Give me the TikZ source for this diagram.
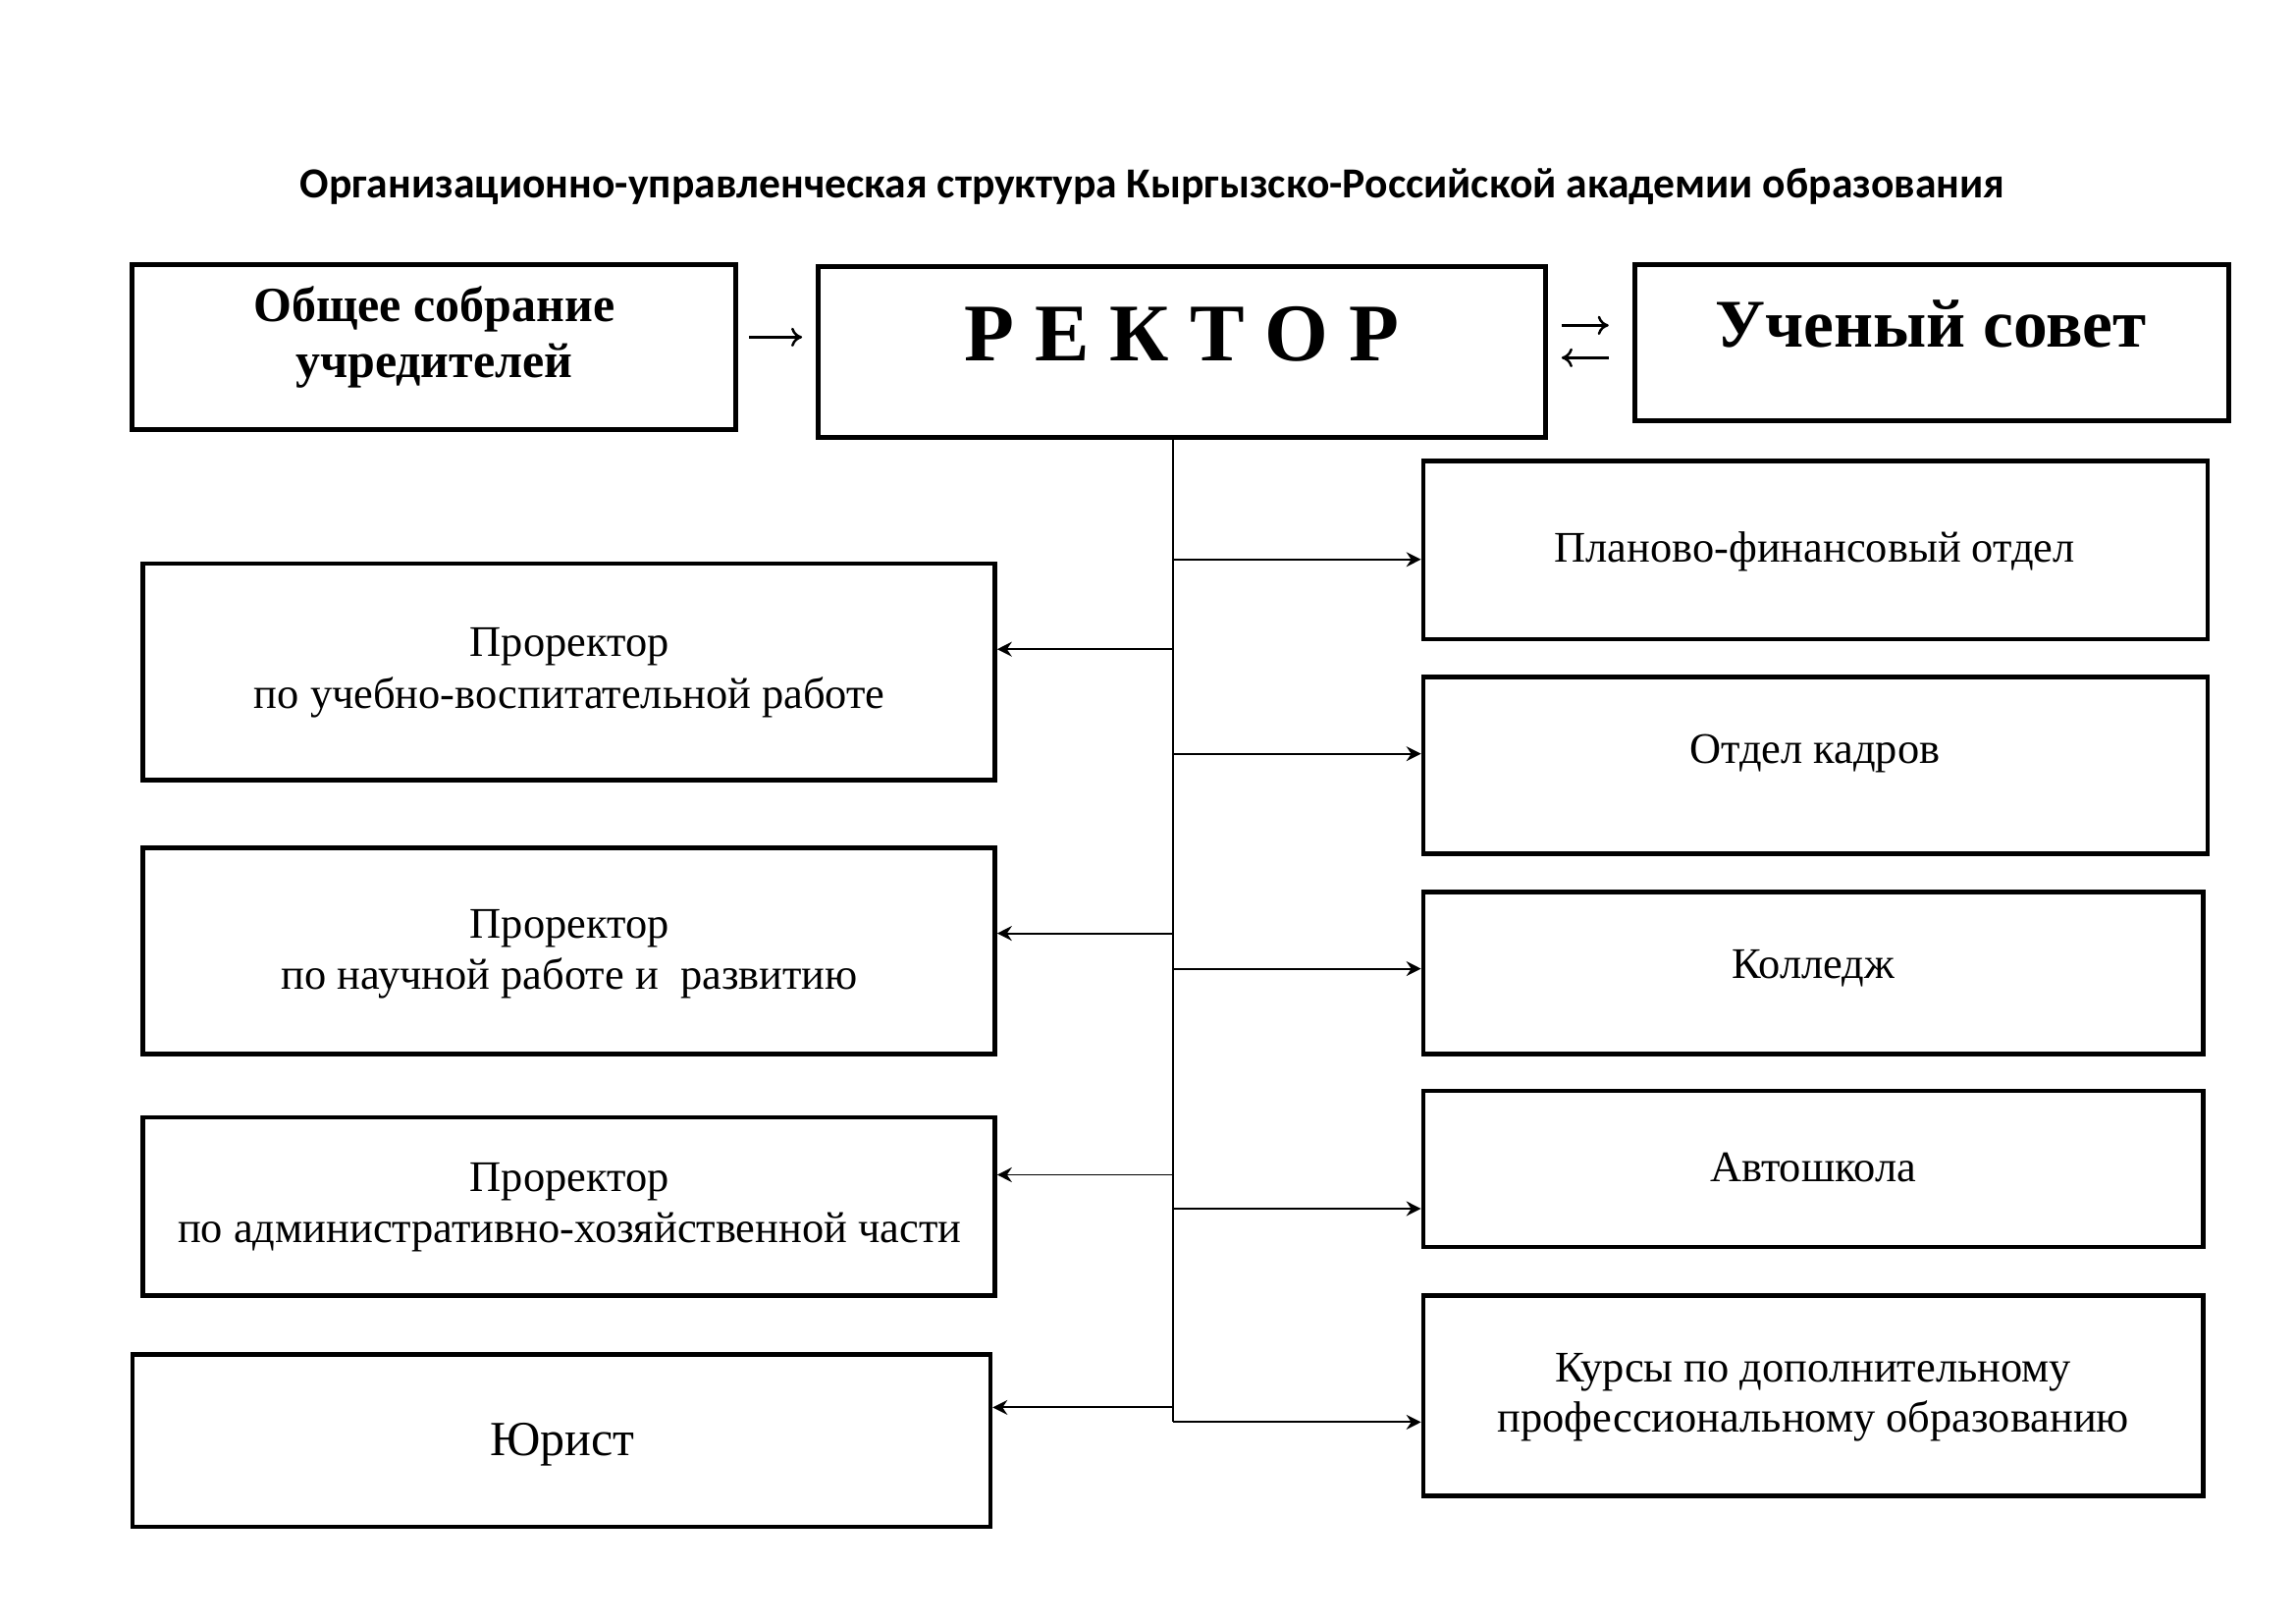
\documentclass[tikz,border=0pt]{standalone}
\usepackage{fontspec}
\setmainfont{Liberation Serif}
\newfontfamily\titlefont{Carlito}
\usetikzlibrary{arrows.meta,fit}
\begin{document}
\begin{tikzpicture}[x=0.5397pt,y=-0.5397pt,
  topbox/.style={draw, line width=1.8pt, inner sep=0pt},
  box/.style={draw, line width=1.6pt, inner sep=0pt},
  btxt/.style={align=center, inner sep=0pt},
  txt/.style={font=\fontsize{16}{18.9}\selectfont, align=center, inner sep=0pt},
  spine/.style={line width=0.7pt},
  conn/.style={line width=0.7pt, -{Stealth[length=5.4pt,width=5.4pt,inset=1.8pt]}},
  glyph/.style={line width=0.9pt, -{To[length=4pt,width=7pt]}}
]
\useasboundingbox (0,0) rectangle (1560,1103);

\node[font=\titlefont\fontsize{15.7}{18}\selectfont\bfseries, inner sep=0pt] (title) at (783,127)
  {Организационно-управленческая структура Кыргызско-Российской академии образования};

% top row
\node[topbox, fit={(90,180) (500,292)}] (gen) {};
\node[btxt, font=\fontsize{18}{20.5}\selectfont\bfseries] (genT) at (295,229) {Общее собрание\\учредителей};
\node[topbox, fit={(556,181) (1050,297)}] (rector) {};
\node[btxt, font=\fontsize{30}{34}\selectfont\bfseries] (rectorT) at (803,227) {Р Е К Т О Р};
\node[topbox, fit={(1111,180) (1514,286)}] (council) {};
\node[btxt, font=\fontsize{25}{28}\selectfont\bfseries] (councilT) at (1312,220) {Ученый совет};

\coordinate (g1) at (509,229);
\coordinate (g2) at (545,229);
\draw[glyph] (g1) -- (g2);
\coordinate (c1) at (1061,221);
\coordinate (c2) at (1093,221);
\coordinate (c3) at (1093,243);
\coordinate (c4) at (1061,243);
\draw[glyph] (c1) -- (c2);
\draw[glyph] (c3) -- (c4);

% right column
\node[box, fit={(967,313) (1500,434)}] (r1) {};
\node[txt] (r1T) at (1233,375) {Планово-финансовый отдел};
\node[box, fit={(967,460) (1500,580)}] (r2) {};
\node[txt] (r2T) at (1233,512) {Отдел кадров};
\node[box, fit={(967,606) (1497,716)}] (r3) {};
\node[txt] (r3T) at (1232,658) {Колледж};
\node[box, fit={(967,741) (1497,847)}] (r4) {};
\node[txt] (r4T) at (1232,793) {Автошкола};
\node[box, fit={(967,880) (1497,1016)}] (r5) {};
\node[txt, font=\fontsize{16}{18.4}\selectfont] (r5T) at (1232,949) {Курсы по дополнительному\\профессиональному образованию};

% left column
\node[box, fit={(97,383) (676,530)}] (l1) {};
\node[txt] (l1T) at (387,457) {Проректор\\по учебно-воспитательной работе};
\node[box, fit={(97,576) (676,716)}] (l2) {};
\node[txt] (l2T) at (387,648) {Проректор\\по научной работе и\ \ развитию};
\node[box, fit={(97,759) (676,880)}] (l3) {};
\node[txt] (l3T) at (387,820) {Проректор\\по административно-хозяйственной части};
\node[box, fit={(90,920) (673,1037)}] (l4) {};
\node[txt, font=\fontsize{18}{21}\selectfont] (l4T) at (382,981) {Юрист};

% spine
\coordinate (sTop) at (797,297);
\coordinate (sBot) at (797,966);
\draw[spine] (sTop) -- (sBot);

\coordinate (jr1) at (797,380);
\coordinate (jr2) at (797,512);
\coordinate (jr3) at (797,658);
\coordinate (jr4) at (797,821);
\coordinate (jr5) at (797,966);
\coordinate (jl1) at (797,441);
\coordinate (jl2) at (797,634);
\coordinate (jl3) at (797,798);
\coordinate (jl4) at (797,956);

\draw[conn] (jr1) -- (jr1 -| r1.west);
\draw[conn] (jr2) -- (jr2 -| r2.west);
\draw[conn] (jr3) -- (jr3 -| r3.west);
\draw[conn] (jr4) -- (jr4 -| r4.west);
\draw[conn] (jr5) -- (jr5 -| r5.west);
\draw[conn] (jl1) -- (jl1 -| l1.east);
\draw[conn] (jl2) -- (jl2 -| l2.east);
\draw[conn] (jl3) -- (jl3 -| l3.east);
\draw[conn] (jl4) -- (jl4 -| l4.east);
\end{tikzpicture}
\end{document}
